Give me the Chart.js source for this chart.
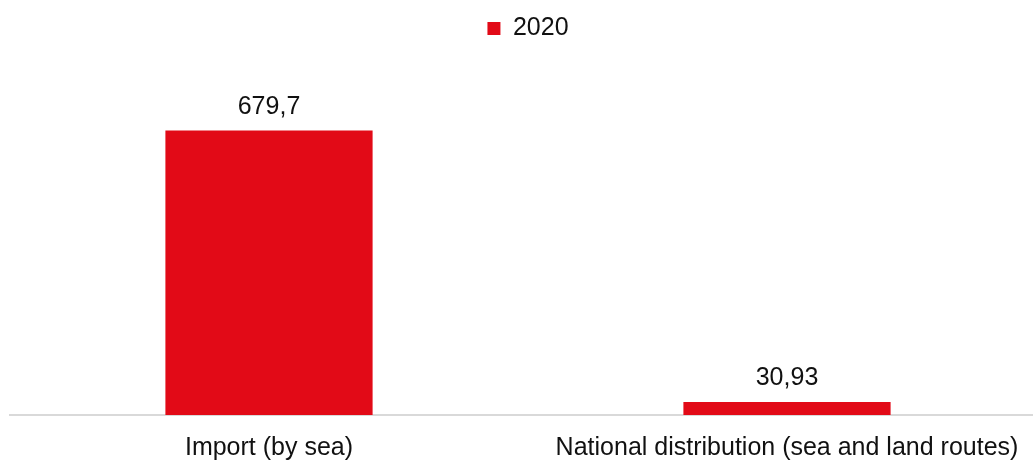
<!DOCTYPE html>
<html>
<head>
<meta charset="utf-8">
<script src="https://cdn.jsdelivr.net/npm/chart.js@4"></script>
<style>
  html, body { margin: 0; padding: 0; background: #fff; overflow: hidden; }
  #wrap { width: 1046px; height: 481px; position: relative; }
</style>
</head>
<body>
<div id="wrap"><canvas id="chart"></canvas></div>
<script>
const categories = ["Import (by sea)", "National distribution (sea and land routes)"];
const seriesName = "2020";
const values = [679.7, 30.93];

const RED = "#e20a17";
const FONT = "'Liberation Sans', Arial, sans-serif";

// draws the value above each bar, with a decimal comma
const valueLabels = {
  id: "valueLabels",
  afterDatasetsDraw(chart) {
    const ctx = chart.ctx;
    const meta = chart.getDatasetMeta(0);
    ctx.save();
    ctx.font = "25px " + FONT;
    ctx.fillStyle = "#111";
    ctx.textAlign = "center";
    ctx.textBaseline = "alphabetic";
    meta.data.forEach((bar, i) => {
      const txt = String(values[i]).replace(".", ",");
      ctx.fillText(txt, bar.x, bar.y - 17);
    });
    ctx.restore();
  }
};

new Chart(document.getElementById("chart"), {
  type: "bar",
  data: {
    labels: categories,
    datasets: [{
      label: seriesName,
      data: values,
      backgroundColor: RED,
      borderWidth: 0,
      barPercentage: 0.4,
      categoryPercentage: 1
    }]
  },
  options: {
    responsive: true,
    maintainAspectRatio: false,
    animation: false,
    layout: { padding: { left: 10, right: 0, top: 6, bottom: 0 } },
    plugins: {
      legend: {
        display: true,
        labels: {
          boxWidth: 13,
          boxHeight: 13,
          color: "#111",
          font: { family: FONT, size: 25 }
        }
      },
      tooltip: { enabled: false }
    },
    scales: {
      x: {
        grid: { display: false, drawTicks: false },
        border: { display: true, color: "#d9d9d9", width: 2 },
        ticks: {
          color: "#111",
          padding: 18,
          font: { family: FONT, size: 25 },
          maxRotation: 0,
          autoSkip: false
        }
      },
      y: {
        display: false,
        min: 0,
        max: 870
      }
    }
  },
  plugins: [valueLabels]
});
</script>
</body>
</html>
